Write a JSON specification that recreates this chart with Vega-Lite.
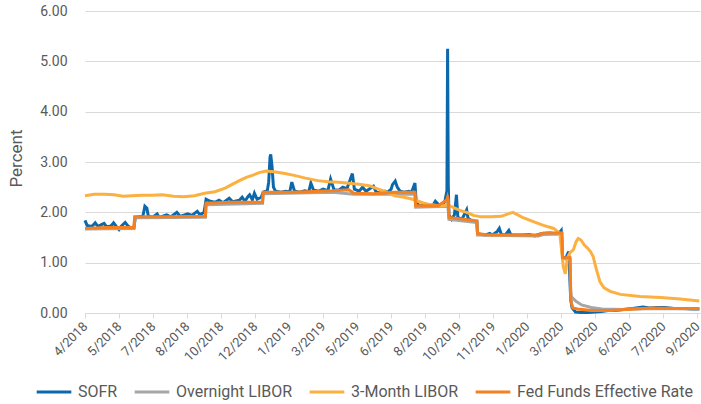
{
  "$schema": "https://vega.github.io/schema/vega-lite/v6.json",
  "autosize": {"type": "none"},
  "width": 615,
  "height": 302,
  "padding": {"left": 85, "top": 11, "right": 1, "bottom": 91},
  "background": "white",
  "config": {
    "view": {"stroke": null},
    "font": "Roboto",
    "axis": {"labelFont": "Roboto", "titleFont": "Roboto", "labelColor": "#595959", "titleColor": "#595959"},
    "legend": {"labelFont": "Roboto"}
  },
  "datasets": {
    "sofr": [
      {"d":"2018-04-02","v":1.84},{"d":"2018-04-05","v":1.74},{"d":"2018-04-12","v":1.72},{"d":"2018-04-17","v":1.79},{"d":"2018-04-21","v":1.72},{"d":"2018-04-30","v":1.78},{"d":"2018-05-04","v":1.71},{"d":"2018-05-10","v":1.73},{"d":"2018-05-14","v":1.79},{"d":"2018-05-18","v":1.72},{"d":"2018-05-22","v":1.66},{"d":"2018-05-25","v":1.72},{"d":"2018-05-31","v":1.80},{"d":"2018-06-04","v":1.73},{"d":"2018-06-10","v":1.68},{"d":"2018-06-13","v":1.70},{"d":"2018-06-15","v":1.90},{"d":"2018-06-26","v":1.92},{"d":"2018-06-28","v":2.05},{"d":"2018-06-29","v":2.12},{"d":"2018-07-02","v":2.08},{"d":"2018-07-04","v":1.93},{"d":"2018-07-10","v":1.90},{"d":"2018-07-17","v":1.97},{"d":"2018-07-20","v":1.90},{"d":"2018-07-31","v":1.95},{"d":"2018-08-06","v":1.91},{"d":"2018-08-15","v":2.00},{"d":"2018-08-20","v":1.92},{"d":"2018-08-31","v":1.97},{"d":"2018-09-06","v":1.94},{"d":"2018-09-14","v":2.02},{"d":"2018-09-18","v":1.95},{"d":"2018-09-24","v":2.00},{"d":"2018-09-27","v":2.26},{"d":"2018-10-03","v":2.22},{"d":"2018-10-10","v":2.20},{"d":"2018-10-16","v":2.24},{"d":"2018-10-22","v":2.19},{"d":"2018-10-31","v":2.28},{"d":"2018-11-05","v":2.21},{"d":"2018-11-15","v":2.24},{"d":"2018-11-19","v":2.30},{"d":"2018-11-23","v":2.22},{"d":"2018-11-28","v":2.32},{"d":"2018-11-30","v":2.35},{"d":"2018-12-04","v":2.25},{"d":"2018-12-07","v":2.38},{"d":"2018-12-11","v":2.26},{"d":"2018-12-17","v":2.30},{"d":"2018-12-20","v":2.40},{"d":"2018-12-26","v":2.43},{"d":"2018-12-28","v":2.60},{"d":"2018-12-30","v":3.10},{"d":"2018-12-31","v":3.15},{"d":"2019-01-02","v":2.90},{"d":"2019-01-04","v":2.50},{"d":"2019-01-07","v":2.42},{"d":"2019-01-15","v":2.40},{"d":"2019-01-22","v":2.42},{"d":"2019-01-28","v":2.41},{"d":"2019-01-31","v":2.60},{"d":"2019-02-04","v":2.42},{"d":"2019-02-12","v":2.40},{"d":"2019-02-19","v":2.43},{"d":"2019-02-25","v":2.41},{"d":"2019-02-28","v":2.58},{"d":"2019-03-04","v":2.44},{"d":"2019-03-12","v":2.42},{"d":"2019-03-18","v":2.46},{"d":"2019-03-25","v":2.43},{"d":"2019-03-29","v":2.66},{"d":"2019-04-03","v":2.45},{"d":"2019-04-10","v":2.44},{"d":"2019-04-16","v":2.50},{"d":"2019-04-22","v":2.47},{"d":"2019-04-30","v":2.77},{"d":"2019-05-03","v":2.46},{"d":"2019-05-10","v":2.42},{"d":"2019-05-15","v":2.50},{"d":"2019-05-20","v":2.42},{"d":"2019-05-31","v":2.52},{"d":"2019-06-04","v":2.40},{"d":"2019-06-12","v":2.38},{"d":"2019-06-17","v":2.42},{"d":"2019-06-21","v":2.40},{"d":"2019-06-26","v":2.46},{"d":"2019-06-28","v":2.55},{"d":"2019-07-02","v":2.62},{"d":"2019-07-05","v":2.50},{"d":"2019-07-09","v":2.42},{"d":"2019-07-15","v":2.40},{"d":"2019-07-22","v":2.42},{"d":"2019-07-26","v":2.40},{"d":"2019-07-31","v":2.58},{"d":"2019-08-02","v":2.18},{"d":"2019-08-08","v":2.12},{"d":"2019-08-15","v":2.17},{"d":"2019-08-20","v":2.12},{"d":"2019-08-26","v":2.13},{"d":"2019-08-30","v":2.22},{"d":"2019-09-04","v":2.15},{"d":"2019-09-10","v":2.16},{"d":"2019-09-13","v":2.22},{"d":"2019-09-16","v":2.43},{"d":"2019-09-17","v":5.25},{"d":"2019-09-18","v":2.55},{"d":"2019-09-19","v":1.95},{"d":"2019-09-23","v":1.86},{"d":"2019-09-27","v":1.95},{"d":"2019-09-30","v":2.35},{"d":"2019-10-02","v":1.90},{"d":"2019-10-08","v":1.86},{"d":"2019-10-15","v":2.05},{"d":"2019-10-17","v":1.88},{"d":"2019-10-24","v":1.82},{"d":"2019-10-30","v":1.82},{"d":"2019-10-31","v":1.58},{"d":"2019-11-05","v":1.56},{"d":"2019-11-12","v":1.55},{"d":"2019-11-18","v":1.58},{"d":"2019-11-22","v":1.55},{"d":"2019-11-29","v":1.62},{"d":"2019-12-02","v":1.68},{"d":"2019-12-05","v":1.56},{"d":"2019-12-11","v":1.55},{"d":"2019-12-16","v":1.64},{"d":"2019-12-19","v":1.55},{"d":"2019-12-31","v":1.55},{"d":"2020-01-06","v":1.55},{"d":"2020-01-15","v":1.56},{"d":"2020-01-23","v":1.53},{"d":"2020-01-31","v":1.57},{"d":"2020-02-06","v":1.58},{"d":"2020-02-14","v":1.59},{"d":"2020-02-21","v":1.58},{"d":"2020-02-28","v":1.59},{"d":"2020-03-02","v":1.64},{"d":"2020-03-04","v":1.12},{"d":"2020-03-09","v":1.10},{"d":"2020-03-13","v":1.22},{"d":"2020-03-16","v":0.26},{"d":"2020-03-18","v":0.10},{"d":"2020-03-23","v":0.02},{"d":"2020-03-31","v":0.01},{"d":"2020-04-10","v":0.01},{"d":"2020-04-20","v":0.02},{"d":"2020-04-30","v":0.03},{"d":"2020-05-10","v":0.05},{"d":"2020-05-20","v":0.05},{"d":"2020-06-01","v":0.07},{"d":"2020-06-15","v":0.09},{"d":"2020-06-30","v":0.12},{"d":"2020-07-10","v":0.10},{"d":"2020-07-20","v":0.11},{"d":"2020-08-01","v":0.11},{"d":"2020-08-15","v":0.09},{"d":"2020-08-31","v":0.09},{"d":"2020-09-10","v":0.08},{"d":"2020-09-21","v":0.08}
    ],
    "onlibor": [
      {"d":"2018-04-02","v":1.67},{"d":"2018-06-13","v":1.68},{"d":"2018-06-14","v":1.89},{"d":"2018-09-26","v":1.90},{"d":"2018-09-27","v":2.15},{"d":"2018-12-19","v":2.18},{"d":"2018-12-20","v":2.37},{"d":"2019-04-01","v":2.40},{"d":"2019-05-02","v":2.36},{"d":"2019-07-31","v":2.36},{"d":"2019-08-01","v":2.10},{"d":"2019-09-16","v":2.12},{"d":"2019-09-17","v":2.20},{"d":"2019-09-19","v":1.86},{"d":"2019-10-30","v":1.80},{"d":"2019-10-31","v":1.55},{"d":"2020-01-28","v":1.53},{"d":"2020-02-05","v":1.56},{"d":"2020-03-03","v":1.57},{"d":"2020-03-04","v":1.08},{"d":"2020-03-15","v":1.07},{"d":"2020-03-16","v":0.45},{"d":"2020-03-17","v":0.32},{"d":"2020-03-23","v":0.24},{"d":"2020-04-01","v":0.16},{"d":"2020-04-15","v":0.11},{"d":"2020-05-01","v":0.08},{"d":"2020-06-01","v":0.07},{"d":"2020-07-15","v":0.09},{"d":"2020-09-21","v":0.08}
    ],
    "m3libor": [
      {"d":"2018-04-02","v":2.33},{"d":"2018-04-16","v":2.36},{"d":"2018-05-01","v":2.36},{"d":"2018-05-15","v":2.35},{"d":"2018-05-28","v":2.32},{"d":"2018-06-10","v":2.33},{"d":"2018-06-25","v":2.34},{"d":"2018-07-10","v":2.34},{"d":"2018-07-25","v":2.35},{"d":"2018-08-10","v":2.32},{"d":"2018-08-25","v":2.31},{"d":"2018-09-10","v":2.33},{"d":"2018-09-25","v":2.38},{"d":"2018-10-10","v":2.41},{"d":"2018-10-25","v":2.48},{"d":"2018-11-05","v":2.56},{"d":"2018-11-15","v":2.63},{"d":"2018-11-26","v":2.70},{"d":"2018-12-05","v":2.74},{"d":"2018-12-14","v":2.79},{"d":"2018-12-24","v":2.82},{"d":"2019-01-07","v":2.80},{"d":"2019-01-21","v":2.77},{"d":"2019-02-05","v":2.73},{"d":"2019-02-20","v":2.68},{"d":"2019-03-10","v":2.63},{"d":"2019-03-25","v":2.61},{"d":"2019-04-10","v":2.60},{"d":"2019-04-25","v":2.58},{"d":"2019-05-10","v":2.56},{"d":"2019-05-25","v":2.53},{"d":"2019-06-05","v":2.47},{"d":"2019-06-20","v":2.40},{"d":"2019-07-01","v":2.33},{"d":"2019-07-15","v":2.30},{"d":"2019-07-25","v":2.27},{"d":"2019-08-05","v":2.22},{"d":"2019-08-15","v":2.17},{"d":"2019-08-30","v":2.14},{"d":"2019-09-10","v":2.13},{"d":"2019-09-17","v":2.15},{"d":"2019-09-25","v":2.10},{"d":"2019-10-05","v":2.04},{"d":"2019-10-15","v":2.00},{"d":"2019-10-25","v":1.94},{"d":"2019-11-05","v":1.91},{"d":"2019-11-20","v":1.91},{"d":"2019-12-05","v":1.92},{"d":"2019-12-15","v":1.97},{"d":"2019-12-22","v":2.00},{"d":"2020-01-05","v":1.90},{"d":"2020-01-20","v":1.82},{"d":"2020-02-05","v":1.74},{"d":"2020-02-20","v":1.68},{"d":"2020-02-29","v":1.58},{"d":"2020-03-05","v":0.92},{"d":"2020-03-08","v":0.78},{"d":"2020-03-11","v":1.10},{"d":"2020-03-15","v":1.20},{"d":"2020-03-20","v":1.26},{"d":"2020-03-24","v":1.42},{"d":"2020-03-27","v":1.48},{"d":"2020-03-31","v":1.45},{"d":"2020-04-05","v":1.35},{"d":"2020-04-09","v":1.30},{"d":"2020-04-14","v":1.22},{"d":"2020-04-18","v":1.12},{"d":"2020-04-22","v":0.90},{"d":"2020-04-28","v":0.62},{"d":"2020-05-04","v":0.50},{"d":"2020-05-13","v":0.43},{"d":"2020-05-28","v":0.37},{"d":"2020-06-26","v":0.33},{"d":"2020-07-26","v":0.31},{"d":"2020-08-24","v":0.28},{"d":"2020-09-21","v":0.24}
    ],
    "ff": [
      {"d":"2018-04-02","v":1.68},{"d":"2018-05-01","v":1.70},{"d":"2018-06-13","v":1.70},{"d":"2018-06-14","v":1.91},{"d":"2018-08-01","v":1.91},{"d":"2018-09-26","v":1.92},{"d":"2018-09-27","v":2.18},{"d":"2018-11-01","v":2.20},{"d":"2018-12-19","v":2.20},{"d":"2018-12-20","v":2.40},{"d":"2019-02-01","v":2.40},{"d":"2019-04-01","v":2.43},{"d":"2019-04-25","v":2.45},{"d":"2019-05-02","v":2.38},{"d":"2019-06-01","v":2.37},{"d":"2019-07-01","v":2.40},{"d":"2019-07-31","v":2.40},{"d":"2019-08-01","v":2.13},{"d":"2019-09-03","v":2.13},{"d":"2019-09-16","v":2.25},{"d":"2019-09-17","v":2.30},{"d":"2019-09-18","v":2.25},{"d":"2019-09-19","v":1.90},{"d":"2019-10-01","v":1.88},{"d":"2019-10-30","v":1.83},{"d":"2019-10-31","v":1.58},{"d":"2019-11-15","v":1.55},{"d":"2019-12-31","v":1.55},{"d":"2020-01-28","v":1.55},{"d":"2020-02-05","v":1.59},{"d":"2020-03-03","v":1.59},{"d":"2020-03-04","v":1.10},{"d":"2020-03-15","v":1.10},{"d":"2020-03-16","v":0.25},{"d":"2020-03-19","v":0.10},{"d":"2020-03-26","v":0.08},{"d":"2020-04-15","v":0.05},{"d":"2020-05-15","v":0.05},{"d":"2020-06-15","v":0.08},{"d":"2020-07-15","v":0.10},{"d":"2020-08-15","v":0.09},{"d":"2020-09-21","v":0.09}
    ]
  },
  "encoding": {
    "x": {
      "field": "d", "type": "temporal",
      "scale": {"type": "utc", "domain": [{"year":2018,"month":4,"date":2,"utc":true},{"year":2020,"month":9,"date":22,"utc":true}]},
      "axis": {
        "title": null, "grid": false,
        "values": [
          {"year":2018,"month":4,"date":2,"utc":true},{"year":2018,"month":5,"date":22,"utc":true},{"year":2018,"month":7,"date":11,"utc":true},{"year":2018,"month":8,"date":30,"utc":true},{"year":2018,"month":10,"date":19,"utc":true},{"year":2018,"month":12,"date":8,"utc":true},{"year":2019,"month":1,"date":27,"utc":true},{"year":2019,"month":3,"date":18,"utc":true},{"year":2019,"month":5,"date":7,"utc":true},{"year":2019,"month":6,"date":26,"utc":true},{"year":2019,"month":8,"date":15,"utc":true},{"year":2019,"month":10,"date":4,"utc":true},{"year":2019,"month":11,"date":23,"utc":true},{"year":2020,"month":1,"date":12,"utc":true},{"year":2020,"month":3,"date":2,"utc":true},{"year":2020,"month":4,"date":21,"utc":true},{"year":2020,"month":6,"date":10,"utc":true},{"year":2020,"month":7,"date":30,"utc":true},{"year":2020,"month":9,"date":18,"utc":true}
        ],
        "labelExpr": "utcFormat(datum.value, '%-m/%Y')",
        "labelAngle": -45, "labelAlign": "right", "labelBaseline": "middle",
        "labelFontSize": 13, "labelPadding": 6, "labelDx": -5, "labelOverlap": false, "labelFlush": false,
        "domainColor": "#d9d9d9", "tickColor": "#d9d9d9", "tickSize": 5
      }
    },
    "y": {
      "field": "v", "type": "quantitative",
      "scale": {"domain": [0, 6], "nice": false},
      "axis": {
        "title": "Percent", "titleFontSize": 17, "titleFontWeight": "normal",
        "titleAngle": -90, "titleBaseline": "middle", "titleAlign": "center", "titleX": -69, "titleY": 147,
        "values": [0,1,2,3,4,5,6], "format": ".2f",
        "labelFontSize": 14, "labelPadding": 18, "ticks": false, "domain": false,
        "gridColor": "#d9d9d9", "gridWidth": 1
      }
    }
  },
  "layer": [
    {
      "data": {"name": "sofr"},
      "mark": {"type": "line", "strokeWidth": 3},
      "encoding": {
        "color": {
          "datum": "SOFR", "type": "nominal",
          "scale": {"domain": ["SOFR", "Overnight LIBOR", "3-Month LIBOR", "Fed Funds Effective Rate"], "range": ["#0b68ad", "#a6a6a6", "#fbb03f", "#f4801f"]},
          "legend": {
            "title": null, "orient": "none", "direction": "horizontal", "legendX": -50, "legendY": 362,
            "symbolType": "stroke", "symbolStrokeWidth": 3, "symbolSize": 1200,
            "labelFontSize": 16, "labelColor": "#595959", "labelOffset": 5, "columnPadding": 10, "labelLimit": 400
          }
        }
      }
    },
    {"data": {"name": "onlibor"}, "mark": {"type": "line", "strokeWidth": 3}, "encoding": {"color": {"datum": "Overnight LIBOR", "type": "nominal"}}},
    {"data": {"name": "m3libor"}, "mark": {"type": "line", "strokeWidth": 3}, "encoding": {"color": {"datum": "3-Month LIBOR", "type": "nominal"}}},
    {"data": {"name": "ff"}, "mark": {"type": "line", "strokeWidth": 3}, "encoding": {"color": {"datum": "Fed Funds Effective Rate", "type": "nominal"}}}
  ]
}
